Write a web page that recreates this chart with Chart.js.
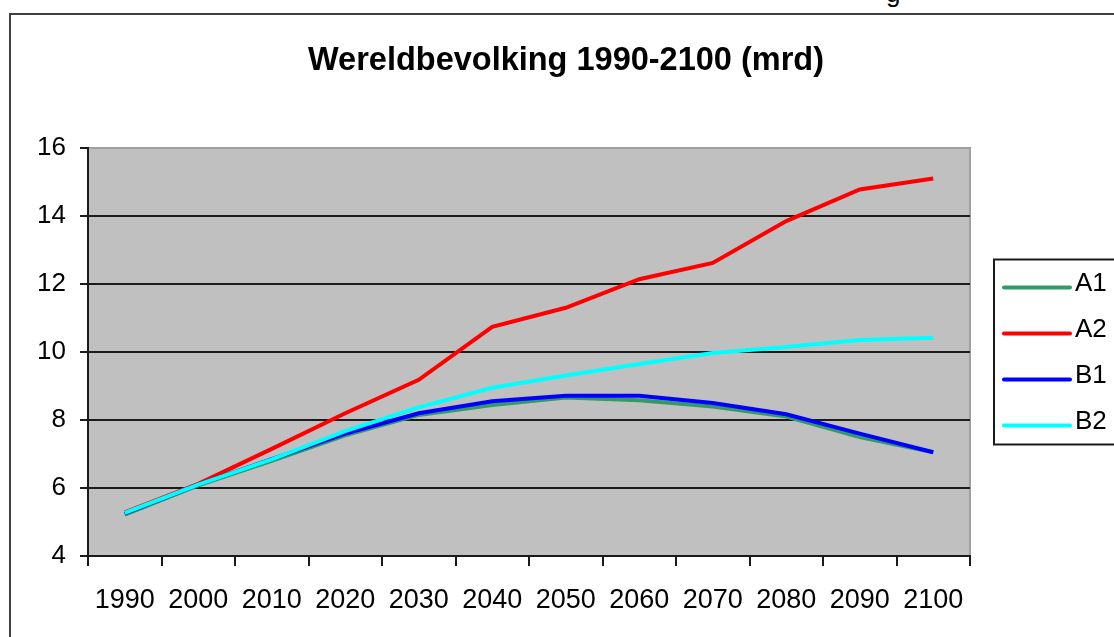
<!DOCTYPE html>
<html>
<head>
<meta charset="utf-8">
<script src="https://cdn.jsdelivr.net/npm/chart.js@4.4.1/dist/chart.umd.min.js"></script>
<style>
  html, body { margin: 0; padding: 0; background: #fff; overflow: hidden; width: 1114px; height: 637px; }
  #frame { position: absolute; left: 9px; top: 13px; width: 1200px; height: 700px; border: 2px solid #404040; }
  #cut { position: absolute; left: 886px; top: -22px; font: 26px "Liberation Sans", Arial, sans-serif; color: #000; }
  #wrap { position: absolute; left: 10px; top: 0; width: 1112px; height: 637px; }
</style>
</head>
<body>
<div id="frame"></div>
<div id="cut">g</div>
<div id="wrap"><canvas id="chart"></canvas></div>
<script>
// World population per SRES scenario, billions
var years = ['1990', '2000', '2010', '2020', '2030', '2040', '2050', '2060', '2070', '2080', '2090', '2100'];
var a1 = [5.22, 6.08, 6.8, 7.55, 8.15, 8.44, 8.66, 8.58, 8.4, 8.1, 7.5, 7.05];
var a2 = [5.28, 6.12, 7.15, 8.2, 9.18, 10.74, 11.3, 12.14, 12.62, 13.85, 14.78, 15.1];
var b1 = [5.25, 6.1, 6.85, 7.6, 8.2, 8.55, 8.71, 8.71, 8.5, 8.17, 7.6, 7.05];
var b2 = [5.27, 6.1, 6.84, 7.67, 8.37, 8.95, 9.31, 9.65, 9.97, 10.15, 10.35, 10.42];
var yTicks = [4, 6, 8, 10, 12, 14, 16];

var FONT = '"Liberation Sans", Arial, sans-serif';
var INK = '#1a1a1a';

// grey plot area with a light border, like the Excel original
var plotBackground = {
  id: 'plotBackground',
  beforeDraw: function(chart) {
    var a = chart.chartArea, ctx = chart.ctx;
    ctx.save();
    ctx.fillStyle = '#c0c0c0';
    ctx.fillRect(a.left, a.top, a.right - a.left, a.bottom - a.top);
    ctx.strokeStyle = '#a0a0a0';
    ctx.lineWidth = 2;
    ctx.strokeRect(a.left, a.top, a.right - a.left, a.bottom - a.top);
    ctx.restore();
  }
};

// boxed legend to the right of the plot
var boxLegend = {
  id: 'boxLegend',
  afterDraw: function(chart) {
    var a = chart.chartArea, ctx = chart.ctx;
    var left = a.right + 24, h = 185, rowH = 46;
    var top = (a.top + a.bottom) / 2 - h / 2;
    ctx.save();
    ctx.strokeStyle = INK;
    ctx.lineWidth = 2;
    ctx.strokeRect(left, top, 300, h);
    ctx.font = '26px ' + FONT;
    ctx.textBaseline = 'middle';
    chart.data.datasets.forEach(function(ds, i) {
      var y = top + 28 + i * rowH;
      ctx.strokeStyle = ds.borderColor;
      ctx.lineWidth = 4;
      ctx.lineCap = 'round';
      ctx.beginPath();
      ctx.moveTo(left + 10, y);
      ctx.lineTo(left + 76, y);
      ctx.stroke();
      ctx.fillStyle = '#000';
      ctx.fillText(ds.label, left + 81, y - 4);
    });
    ctx.restore();
  }
};

function series(label, data, color, order) {
  return {
    label: label, data: data, borderColor: color, backgroundColor: color,
    borderWidth: 4, pointRadius: 0, tension: 0, fill: false, order: order
  };
}

new Chart(document.getElementById('chart'), {
  type: 'line',
  data: {
    labels: years,
    datasets: [
      series('A1', a1, '#339966', 4),
      series('A2', a2, '#ff0000', 3),
      series('B1', b1, '#0000ff', 2),
      series('B2', b2, '#00ffff', 1)
    ]
  },
  options: {
    responsive: true,
    maintainAspectRatio: false,
    animation: false,
    layout: { padding: 0 },
    plugins: {
      legend: { display: false },
      tooltip: { enabled: false },
      title: {
        display: true,
        text: 'Wereldbevolking 1990-2100 (mrd)',
        color: '#000',
        font: { family: FONT, size: 32.5, weight: 'bold', lineHeight: 1.2 },
        padding: { top: 41.5, bottom: 67.5 }
      }
    },
    scales: {
      x: {
        offset: true,
        grid: { offset: true, drawOnChartArea: false, drawTicks: true, tickLength: 10, color: INK, lineWidth: 2 },
        border: { color: INK, width: 2 },
        ticks: { color: '#000', font: { family: FONT, size: 27 }, padding: 18, maxRotation: 0, autoSkip: false },
        afterFit: function(s) { s.height = 81; }
      },
      y: {
        min: 4,
        max: 16,
        afterBuildTicks: function(s) { s.ticks = yTicks.map(function(v) { return { value: v }; }); },
        grid: {
          color: function(c) { return c.tick && c.tick.value === 16 ? '#a0a0a0' : INK; },
          tickColor: INK, lineWidth: 2, tickLength: 8
        },
        border: { color: INK, width: 2 },
        ticks: { color: '#000', font: { family: FONT, size: 26 }, padding: 14 },
        afterFit: function(s) { s.width = 78; }
      },
      y2: {
        position: 'right',
        grid: { display: false },
        border: { display: false },
        ticks: { display: false },
        afterFit: function(s) { s.width = 152; }
      }
    }
  },
  plugins: [plotBackground, boxLegend]
});
</script>
</body>
</html>
